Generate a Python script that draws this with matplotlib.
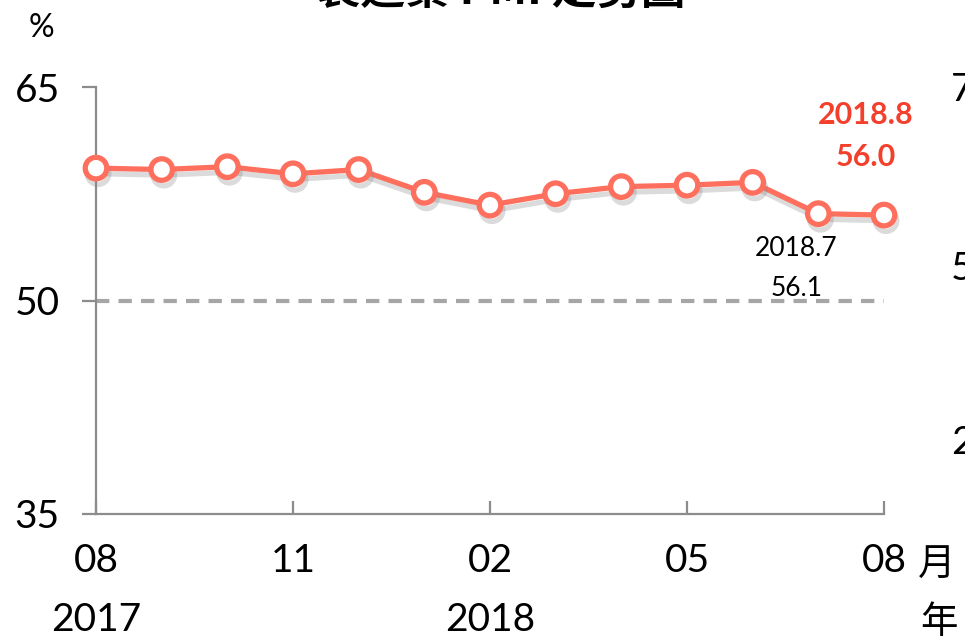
import matplotlib
matplotlib.use("Agg")
import matplotlib.pyplot as plt
import matplotlib.patheffects as pe
import matplotlib.transforms as mtransforms

plt.rcParams['font.family'] = ['Lato', 'Noto Sans CJK TC', 'DejaVu Sans']

# ---- data ----
months = ["08", "09", "10", "11", "12", "01", "02", "03", "04", "05", "06", "07", "08"]
pmi = [59.3, 59.2, 59.4, 58.9, 59.2, 57.6, 56.7, 57.5, 58.0, 58.1, 58.3, 56.1, 56.0]
tick_idx = [0, 3, 6, 9, 12]
tick_labels = ["08", "11", "02", "05", "08"]
year_idx = [0, 6]
year_labels = ["2017", "2018"]
y_ticks = [35, 50, 65]
right_labels = ["75", "50", "25"]
title = "製造業 PMI 走勢圖"

W, H = 965, 638
fig = plt.figure(figsize=(W / 100, H / 100), dpi=100)
ax = fig.add_axes([96 / W, 1 - 514 / H, (884 - 96) / W, (514 - 87) / H])

def px(x, y):
    return x / W, 1 - y / H

x = list(range(len(pmi)))
line_color = "#FF6F5E"
ax.axhline(50, color="#A6A6A6", lw=3.0, ls=(0, (3.2, 2.2)), zorder=1)
ax.plot(x, pmi, color=line_color, lw=3.8, marker="o", ms=15.5,
        mfc="white", mec=line_color, mew=3.8, clip_on=False, zorder=3,
        path_effects=[pe.SimpleLineShadow(offset=(1.5, -4), shadow_color="#888888", alpha=0.3),
                      pe.Normal()])

ax.set_xlim(0, 12)
ax.set_ylim(35, 65)
ax.set_yticks(y_ticks)
ax.set_yticklabels([str(v) for v in y_ticks], fontsize=28)
ax.set_xticks(tick_idx)
ax.set_xticklabels(tick_labels, fontsize=28)

spine_c = "#8C8C8C"
for s in ["top", "right"]:
    ax.spines[s].set_visible(False)
for s in ["left", "bottom"]:
    ax.spines[s].set_color(spine_c)
    ax.spines[s].set_linewidth(1.6)
ax.tick_params(axis="y", direction="out", length=10, width=1.6, color=spine_c, pad=16)
ax.tick_params(axis="x", direction="in", length=9.5, width=1.6, color=spine_c, pad=21)

# year labels under month labels
trans = mtransforms.blended_transform_factory(ax.transData, fig.transFigure)
for i, lab in zip(year_idx, year_labels):
    ax.text(i, 1 - 620 / H, lab, transform=trans, ha="center", va="center", fontsize=28)

fig.text(*px(937, 565), "月", ha="center", va="center", fontsize=27)
fig.text(*px(939, 622), "年", ha="center", va="center", fontsize=27)
fig.text(*px(41, 28), "%", ha="center", va="center", fontsize=23)

# right axis labels (cut by figure edge)
for lab, yy in zip(right_labels, [90, 269, 443]):
    fig.text(*px(951, yy), lab, ha="left", va="center", fontsize=28)

# title (cut by top edge)
fig.text(*px(501, -8), title, ha="center", va="center", fontsize=32, fontweight="bold",
         family=['Noto Sans CJK TC', 'DejaVu Sans'])

# annotations
red = "#F2402C"
fig.text(*px(866, 115), "2018.8", ha="center", va="center", fontsize=22, fontweight="bold", color=red)
fig.text(*px(866, 157), "56.0", ha="center", va="center", fontsize=22, fontweight="bold", color=red)
fig.text(*px(796, 249), "2018.7", ha="center", va="center", fontsize=19, color="black")
fig.text(*px(797, 289), "56.1", ha="center", va="center", fontsize=19, color="black")

fig.savefig("out.png", dpi=100)
